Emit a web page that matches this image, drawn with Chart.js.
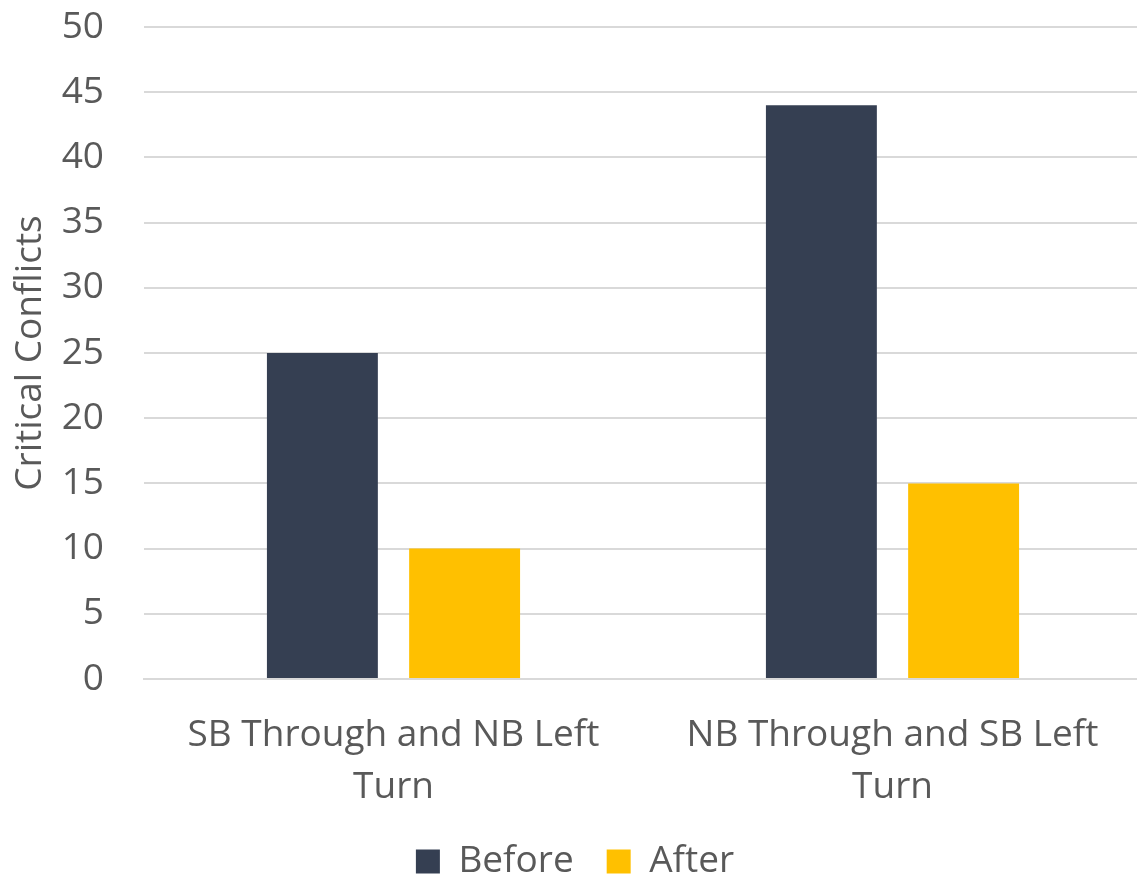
<!DOCTYPE html>
<html>
<head>
<meta charset="utf-8">
<script src="https://cdn.jsdelivr.net/npm/chart.js@4.4.1/dist/chart.umd.min.js"></script>
<style>
  html, body { margin: 0; padding: 0; background: #ffffff; overflow: hidden; }
  #wrap { position: relative; width: 1142px; height: 875px; }
</style>
</head>
<body>
<div id="wrap"><canvas id="chart"></canvas></div>
<script>
// Conflict counts per movement pair, before and after the change
const categories = [
  ["SB Through and NB Left", "Turn"],
  ["NB Through and SB Left", "Turn"]
];
const beforeValues = [25, 44];
const afterValues = [10, 15];
const seriesNames = ["Before", "After"];
const yTitle = "Critical Conflicts";

const FONT = "'Open Sans', 'DejaVu Sans', sans-serif";
const TEXT = "#595959";

// Box sizes for the axes and legend, so the plot area sits where intended
const Y_AXIS_WIDTH = 136;
const X_AXIS_HEIGHT = 131;
const LEGEND_HEIGHT = 65;

const legendSize = {
  id: "legendSize",
  beforeLayout(chart) {
    const legend = chart.legend;
    if (legend && !legend._sizePatched) {
      const fit = legend.fit;
      legend.fit = function () {
        fit.call(this);
        this.height = LEGEND_HEIGHT;
      };
      legend._sizePatched = true;
    }
  }
};

new Chart(document.getElementById("chart"), {
  type: "bar",
  data: {
    labels: categories,
    datasets: [
      { label: seriesNames[0], data: beforeValues, backgroundColor: "#353F52" },
      { label: seriesNames[1], data: afterValues, backgroundColor: "#FFC000" }
    ]
  },
  plugins: [legendSize],
  options: {
    responsive: true,
    maintainAspectRatio: false,
    animation: false,
    layout: { padding: { top: 27, left: 8, right: 0, bottom: 0 } },
    datasets: { bar: { categoryPercentage: 0.57, barPercentage: 0.78 } },
    plugins: {
      legend: {
        position: "bottom",
        labels: {
          font: { family: FONT, size: 37 },
          color: TEXT,
          boxWidth: 24,
          boxHeight: 24,
          padding: 33
        }
      },
      tooltip: { enabled: false }
    },
    scales: {
      x: {
        grid: { display: false },
        border: { display: true, color: "#d9d9d9", width: 2 },
        ticks: {
          font: { family: FONT, size: 37, lineHeight: 1.4 },
          color: TEXT,
          padding: 23,
          maxRotation: 0
        },
        afterFit(scale) {
          scale.height = X_AXIS_HEIGHT;
          scale.paddingLeft = 0;
          scale.paddingRight = 0;
        }
      },
      y: {
        min: 0,
        max: 50,
        ticks: {
          stepSize: 5,
          font: { family: FONT, size: 37 },
          color: TEXT,
          padding: 40
        },
        grid: { color: "#d9d9d9", lineWidth: 2, drawTicks: false },
        border: { display: false },
        title: {
          display: true,
          text: yTitle,
          font: { family: FONT, size: 37 },
          color: TEXT,
          padding: { top: 0, bottom: 10 }
        },
        afterFit(scale) {
          scale.width = Y_AXIS_WIDTH;
          scale.paddingTop = 0;
          scale.paddingBottom = 0;
        }
      }
    }
  }
});
</script>
</body>
</html>
